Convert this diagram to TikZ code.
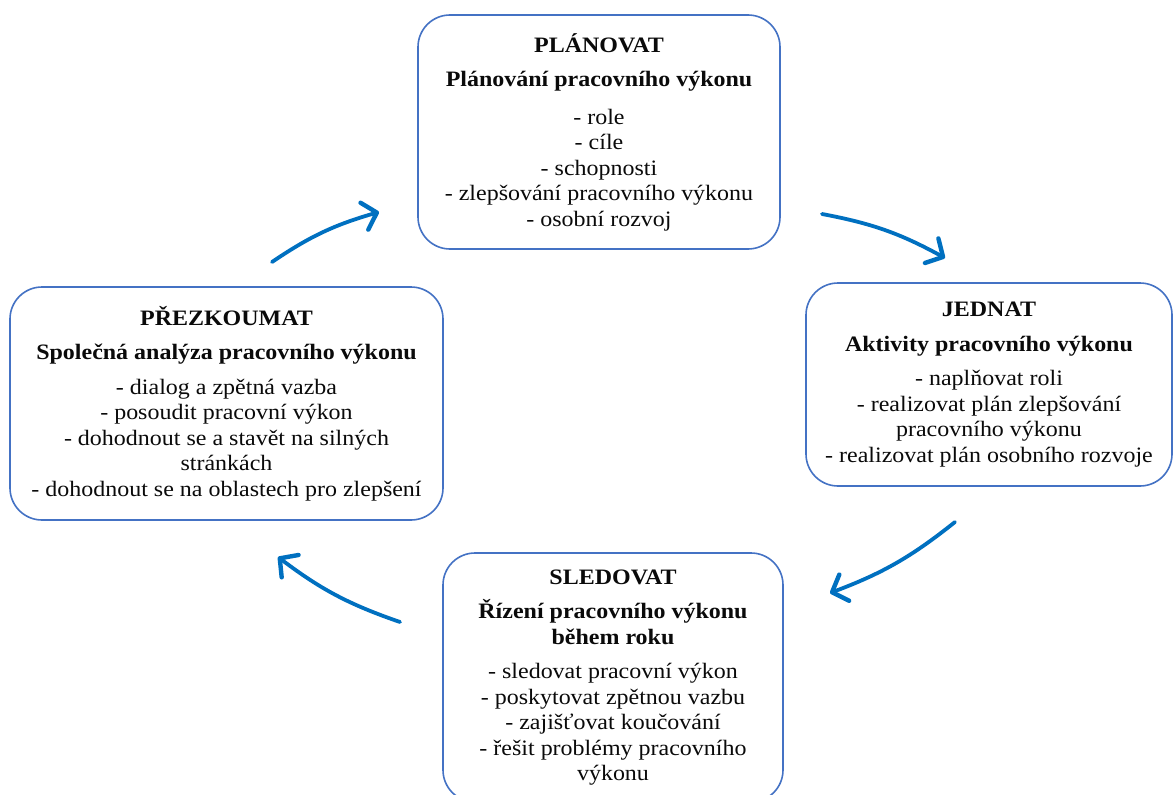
\documentclass[tikz,border=0pt]{standalone}
\usepackage{fontspec}
\setmainfont{Liberation Serif}[FakeStretch=1.09]
\usetikzlibrary{arrows.meta}
\definecolor{boxb}{RGB}{68,114,196}
\definecolor{cycc}{RGB}{0,112,192}
\definecolor{txt}{RGB}{10,10,10}
\tikzset{
  phase/.style={draw=boxb,fill=white,rounded corners=32pt,line width=1.6pt,align=center,inner sep=0pt,
    text=txt,font=\fontsize{22}{25.5}\selectfont},
  cyc/.style={-{Straight Barb[length=13pt,width=28pt,line width=0.6pt 1,round]},cycc,line width=3.8pt,line cap=round},
}
\newcommand{\ttl}[1]{\textbf{#1}}

\begin{document}
\begin{tikzpicture}[x=1pt,y=-1pt]
\useasboundingbox (0,0) rectangle (1173,795);
% ---- the four phases ----
\node[phase,minimum width=362pt,minimum height=234pt] (plan) at (599,132)
  {\ttl{PLÁNOVAT}\\[9pt]\ttl{Plánování pracovního výkonu}\\[12pt]
   - role\\ - cíle\\ - schopnosti\\ - zlepšování pracovního výkonu\\ - osobní rozvoj};
\node[phase,minimum width=366pt,minimum height=203pt] (act) at (989,384.5)
  {\ttl{JEDNAT}\\[9pt]\ttl{Aktivity pracovního výkonu}\\[9pt]
   - naplňovat roli\\ - realizovat plán zlepšování\\ pracovního výkonu\\ - realizovat plán osobního rozvoje};
\node[phase,minimum width=340pt,minimum height=249pt] (monitor) at (613,677.5)
  {\ttl{SLEDOVAT}\\[9pt]\ttl{Řízení pracovního výkonu}\\ \ttl{během roku}\\[9pt]
   - sledovat pracovní výkon\\ - poskytovat zpětnou vazbu\\ - zajišťovat koučování\\ - řešit problémy pracovního\\ výkonu};
\node[phase,minimum width=433pt,minimum height=233pt] (review) at (226.5,403.5)
  {\ttl{PŘEZKOUMAT}\\[9pt]\ttl{Společná analýza pracovního výkonu}\\[9pt]
   - dialog a zpětná vazba\\ - posoudit pracovní výkon\\ - dohodnout se a stavět na silných\\ stránkách\\ - dohodnout se na oblastech pro zlepšení};

% ---- cycle arrows (free ends) ----
\coordinate (rp-s) at (272,262);  \coordinate (rp-e) at (379,212);
\coordinate (pa-s) at (822,214);  \coordinate (pa-e) at (945,258);
\coordinate (am-s) at (955,522);  \coordinate (am-e) at (830,593);
\coordinate (mr-s) at (400,622);  \coordinate (mr-e) at (278,557);
\draw[cyc] (rp-s) to[bend left=9] (rp-e);
\draw[cyc] (pa-s) to[bend left=9] (pa-e);
\draw[cyc] (am-s) to[bend left=9] (am-e);
\draw[cyc] (mr-s) to[bend left=9] (mr-e);
\end{tikzpicture}
\end{document}
